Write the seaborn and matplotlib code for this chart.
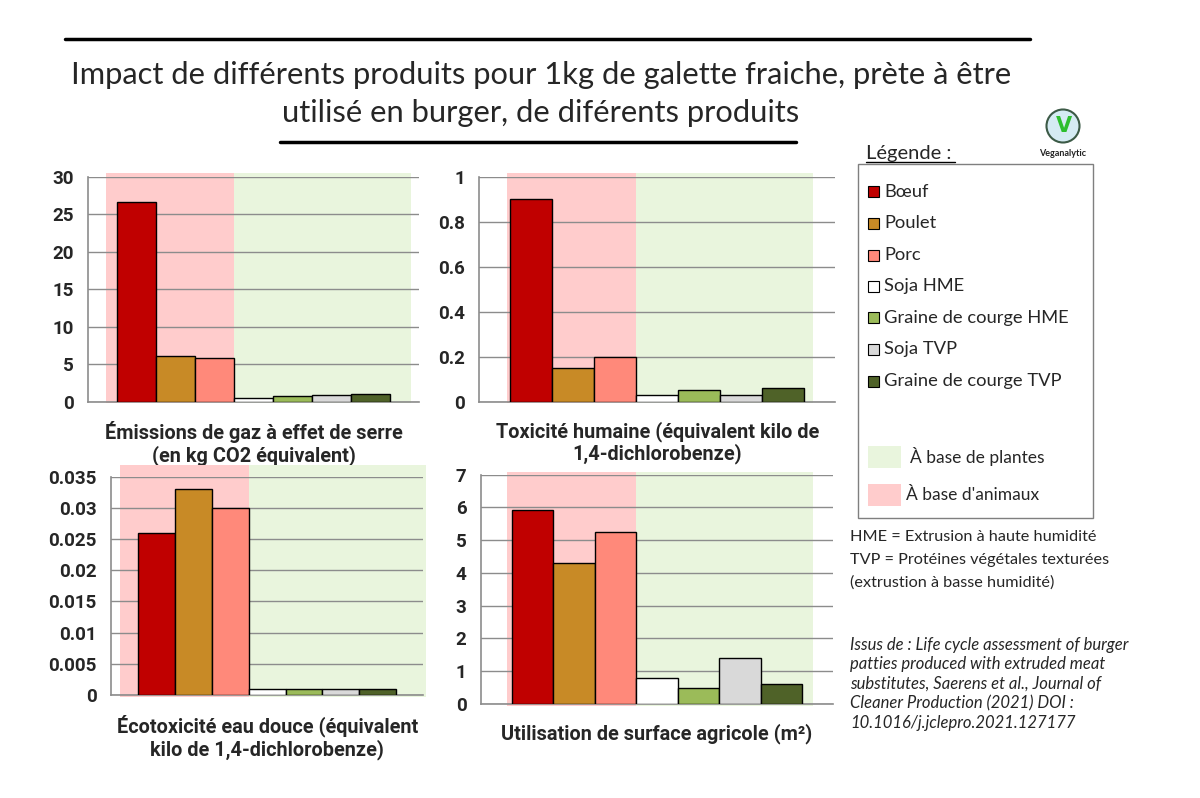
import numpy as np
import pandas as pd
import matplotlib
matplotlib.use("Agg")
import matplotlib.pyplot as plt
import matplotlib.transforms as mtransforms
from matplotlib.patches import Rectangle, Ellipse
from matplotlib.lines import Line2D
import seaborn as sns

# ---- data
products = ["Bœuf", "Poulet", "Porc", "Soja HME", "Graine de courge HME",
            "Soja TVP", "Graine de courge TVP"]
colors = ["#C00000", "#C88A26", "#FF897A", "#FFFFFF", "#9BBB59",
          "#D9D9D9", "#4F6228"]

ghg = [26.6, 6.05, 5.8, 0.55, 0.75, 0.9, 1.0]
tox_human = [0.90, 0.15, 0.20, 0.03, 0.05, 0.03, 0.06]
ecotox = [0.026, 0.033, 0.030, 0.001, 0.001, 0.001, 0.001]
land = [5.92, 4.3, 5.25, 0.8, 0.5, 1.4, 0.6]

panel_labels = [
    "Émissions de gaz à effet de serre\n(en kg CO2 équivalent)",
    "Toxicité humaine (équivalent kilo de\n1,4-dichlorobenze)",
    "Écotoxicité eau douce (équivalent\nkilo de 1,4-dichlorobenze)",
    "Utilisation de surface agricole (m²)",
]
yticks = [
    [0, 5, 10, 15, 20, 25, 30],
    [0, 0.2, 0.4, 0.6, 0.8, 1],
    [0, 0.005, 0.01, 0.015, 0.02, 0.025, 0.03, 0.035],
    [0, 1, 2, 3, 4, 5, 6, 7],
]
ytick_labels = [
    ["0", "5", "10", "15", "20", "25", "30"],
    ["0", "0.2", "0.4", "0.6", "0.8", "1"],
    ["0", "0.005", "0.01", "0.015", "0.02", "0.025", "0.03", "0.035"],
    ["0", "1", "2", "3", "4", "5", "6", "7"],
]

title = ("Impact de différents produits pour 1kg de galette fraiche, prète à être\n"
         "utilisé en burger, de diférents produits")
legend_title = "Légende :"
band_labels = ["À base de plantes", "À base d'animaux"]
notes = ["HME = Extrusion à haute humidité",
         "TVP = Protéines végétales texturées",
         "(extrustion à basse humidité)"]
source = ["Issus de : Life cycle assessment of burger",
          "patties produced with extruded meat",
          "substitutes, Saerens et al., Journal of",
          "Cleaner Production (2021) DOI :",
          "10.1016/j.jclepro.2021.127177"]

PINK = "#FFCCCC"
GREEN = "#E9F5DD"
GRID = "#8C8C8C"

W, H = 1200, 798


def fx(x):
    return x / W


def fy(y):
    return 1 - y / H


sns.set_style("white")
plt.rcParams['font.family'] = ['Lato', 'DejaVu Sans']

fig = plt.figure(figsize=(12, 7.98), dpi=100)

# axes boxes in pixels (left, top, right, bottom)
boxes = [(88, 176.7, 419, 401.7), (479.3, 176.7, 835, 401.7),
         (111, 476.7, 423.3, 695), (481, 474.7, 833, 704)]
# background bands: (pink start, green end, top in axes fraction)
bands = [(-0.78, 7.04, 1.018), (-0.58, 6.72, 1.018),
         (-1.0, 7.32, 1.054), (-0.61, 6.77, 1.012)]
series = [ghg, tox_human, ecotox, land]
xlim = (-1.24, 7.24)

for i in range(4):
    l, t, r, b = boxes[i]
    ax = fig.add_axes([fx(l), fy(b), (r - l) / W, (b - t) / H])
    df = pd.DataFrame({"produit": products, "valeur": series[i]})
    sns.barplot(data=df, x="produit", y="valeur", hue="produit", order=products,
                hue_order=products, palette=colors, saturation=1, width=1.0,
                edgecolor="black", linewidth=1.0, legend=False, ax=ax, zorder=3)

    p0, g1, top = bands[i]
    trans = mtransforms.blended_transform_factory(ax.transData, ax.transAxes)
    ax.add_patch(Rectangle((p0, -0.007), 2.5 - p0, top + 0.007, transform=trans,
                           facecolor=PINK, edgecolor="none", zorder=0.1, clip_on=False))
    ax.add_patch(Rectangle((2.5, -0.007), g1 - 2.5, top + 0.007, transform=trans,
                           facecolor=GREEN, edgecolor="none", zorder=0.1, clip_on=False))

    ax.set_xlim(*xlim)
    ax.set_ylim(0, yticks[i][-1])
    ax.set_yticks(yticks[i])
    ax.set_yticklabels(ytick_labels[i], fontfamily="Roboto", fontweight="bold",
                       fontsize=13.5)
    ax.set_xticks(list(xlim))
    ax.set_xticklabels(["", ""])
    ax.tick_params(axis="both", direction="out", length=4.5, width=1.0,
                   color=GRID, pad=6)
    ax.tick_params(axis="x", length=4.0, pad=0)
    ax.yaxis.grid(True, color=GRID, linewidth=1.0)
    for gl in ax.get_ygridlines():
        gl.set_zorder(0.5)
    for s in ["top", "right"]:
        ax.spines[s].set_visible(False)
    for s in ["left", "bottom"]:
        ax.spines[s].set_color(GRID)
        ax.spines[s].set_linewidth(1.2)
        ax.spines[s].set_zorder(2)
    ax.set_ylabel("")
    ax.set_xlabel(panel_labels[i], fontfamily="Roboto", fontweight="bold",
                  fontsize=14.3, labelpad=10, linespacing=1.12)
    ax.patch.set_alpha(0)

# ---- title and rules
fig.add_artist(Line2D([fx(65), fx(1030)], [fy(39), fy(39)], color="black", lw=2.5))
fig.add_artist(Line2D([fx(280), fx(796)], [fy(142), fy(142)], color="black", lw=2.5))
fig.text(fx(541), fy(94), title, ha="center", va="center", fontsize=22.2,
         linespacing=1.45)

# ---- logo
fig.add_artist(Ellipse((fx(1063), fy(126)), 33 / W, 33 / H,
                       transform=fig.transFigure, facecolor="#D5EBF3",
                       edgecolor="#3C5A46", lw=1.5))
fig.text(fx(1064), fy(126), "V", ha="center", va="center", fontsize=15,
         fontweight="bold", color="#2DBE2D", family="DejaVu Sans")
fig.text(fx(1063), fy(153), "Veganalytic", ha="center", va="center", fontsize=6.5,
         fontweight="bold", color="#222222")

# ---- legend box
fig.add_artist(Rectangle((fx(858), fy(518)), (1093 - 858) / W, (518 - 164) / H,
                         transform=fig.transFigure, facecolor="white",
                         edgecolor="#7F7F7F", lw=1.0))
fig.text(fx(866), fy(153), legend_title, ha="left", va="center", fontsize=14.5)
fig.add_artist(Line2D([fx(866), fx(955)], [fy(162), fy(162)], color="black", lw=1.0))

entry_y = [191.7, 223, 255, 286, 317.7, 349, 381]
for name, col, y in zip(products, colors, entry_y):
    fig.add_artist(Rectangle((fx(868), fy(y + 5.5)), 10.5 / W, 11 / H,
                             transform=fig.transFigure, facecolor=col,
                             edgecolor="black", lw=0.8))
    fig.text(fx(884), fy(y), name, ha="left", va="center", fontsize=13.2)

for lab, col, y, x in zip(band_labels, [GREEN, PINK], [456.7, 495], [910, 906]):
    fig.add_artist(Rectangle((fx(868), fy(y + 11)), 33 / W, 22 / H,
                             transform=fig.transFigure, facecolor=col,
                             edgecolor="none"))
    fig.text(fx(x), fy(y), lab, ha="left", va="center", fontsize=12.5)

for txt, y in zip(notes, [537, 560, 583]):
    fig.text(fx(850), fy(y), txt, ha="left", va="center", fontsize=11.7)
for txt, y in zip(source, [645, 664.5, 684, 703.5, 723]):
    fig.text(fx(850), fy(y), txt, ha="left", va="center", fontsize=12,
             style="italic")

fig.savefig("out.png", dpi=100, facecolor="white")
